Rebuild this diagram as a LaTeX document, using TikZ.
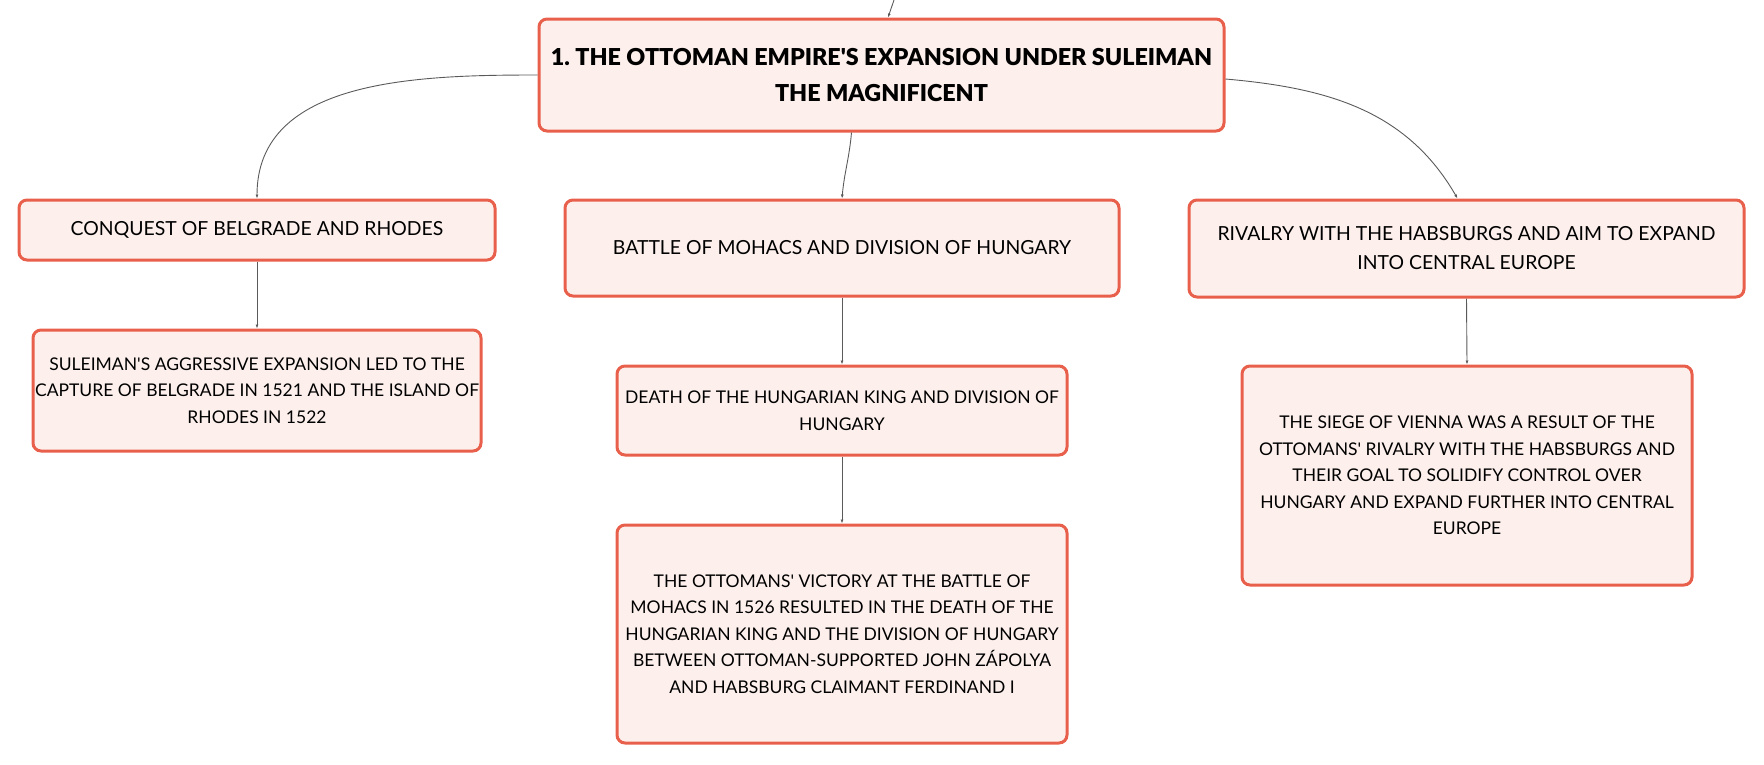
\documentclass[tikz,border=0pt]{standalone}
\usepackage{fontspec}
\usetikzlibrary{arrows.meta}
\setmainfont{Lato}
\newfontfamily\heavyfont{Lato Black}
\frenchspacing
\definecolor{boxline}{HTML}{E8604C}
\definecolor{boxfill}{HTML}{FDF0EC}
\definecolor{edgegray}{HTML}{5A5A5A}
\begin{document}
\begin{tikzpicture}[x=1pt,y=-1pt,>={Latex[length=4pt,width=3pt]},
  box/.style={draw=boxline,fill=boxfill,line width=3pt,rounded corners=8pt,align=center,inner sep=0pt},
  topic/.style={box,font=\fontsize{19.4}{29}\selectfont},
  detail/.style={box,font=\fontsize{17.5}{26.5}\selectfont},
  link/.style={draw=edgegray,line width=0.9pt,->}]
\useasboundingbox (0,0) rectangle (1764,764);
% main topic
\node at (881.5,75) [box,minimum width=685,minimum height=112,font=\fontsize{23.3}{36}\heavyfont] (main) {1. THE OTTOMAN EMPIRE\textquotesingle S EXPANSION UNDER SULEIMAN\\THE MAGNIFICENT};
\coordinate (top) at (894,0);
% subtopics
\node at (257,230) [topic,minimum width=476,minimum height=60] (belgrade) {CONQUEST OF BELGRADE AND RHODES};
\node at (842,248) [topic,minimum width=554,minimum height=96] (mohacs) {BATTLE OF MOHACS AND DIVISION OF HUNGARY};
\node at (1466.5,248.5) [topic,minimum width=555,minimum height=97] (rivalry) {RIVALRY WITH THE HABSBURGS AND AIM TO EXPAND\\INTO CENTRAL EUROPE};
% details
\node at (257,390.5) [detail,minimum width=448,minimum height=121] (capture) {SULEIMAN\textquotesingle S AGGRESSIVE EXPANSION LED TO THE\\CAPTURE OF BELGRADE IN 1521 AND THE ISLAND OF\\RHODES IN 1522};
\node at (842,410.5) [detail,minimum width=450,minimum height=89] (death) {DEATH OF THE HUNGARIAN KING AND DIVISION OF\\HUNGARY};
\node at (842,634) [detail,minimum width=450,minimum height=218] (victory) {THE OTTOMANS\textquotesingle{} VICTORY AT THE BATTLE OF\\MOHACS IN 1526 RESULTED IN THE DEATH OF THE\\HUNGARIAN KING AND THE DIVISION OF HUNGARY\\BETWEEN OTTOMAN-SUPPORTED JOHN ZÁPOLYA\\AND HABSBURG CLAIMANT FERDINAND I};
\node at (1467,475.5) [detail,minimum width=450,minimum height=219] (vienna) {THE SIEGE OF VIENNA WAS A RESULT OF THE\\OTTOMANS\textquotesingle{} RIVALRY WITH THE HABSBURGS AND\\THEIR GOAL TO SOLIDIFY CONTROL OVER\\HUNGARY AND EXPAND FURTHER INTO CENTRAL\\EUROPE};
% connectors
\draw[link] (top) -- ([xshift=6.5]main.north);
\draw[link] (main.west) to[out=180,in=90] (belgrade.north);
\draw[link] ([xshift=-30]main.south) to[out=-95,in=85] (mohacs.north);
\draw[link] ([yshift=-4]main.east) to[out=-5,in=120] ([xshift=-9]rivalry.north);
\foreach \a/\b in {belgrade/capture,mohacs/death,death/victory,rivalry/vienna}{
	\draw[link] (\a.south) -- (\b.north);
}
\end{tikzpicture}
\end{document}
